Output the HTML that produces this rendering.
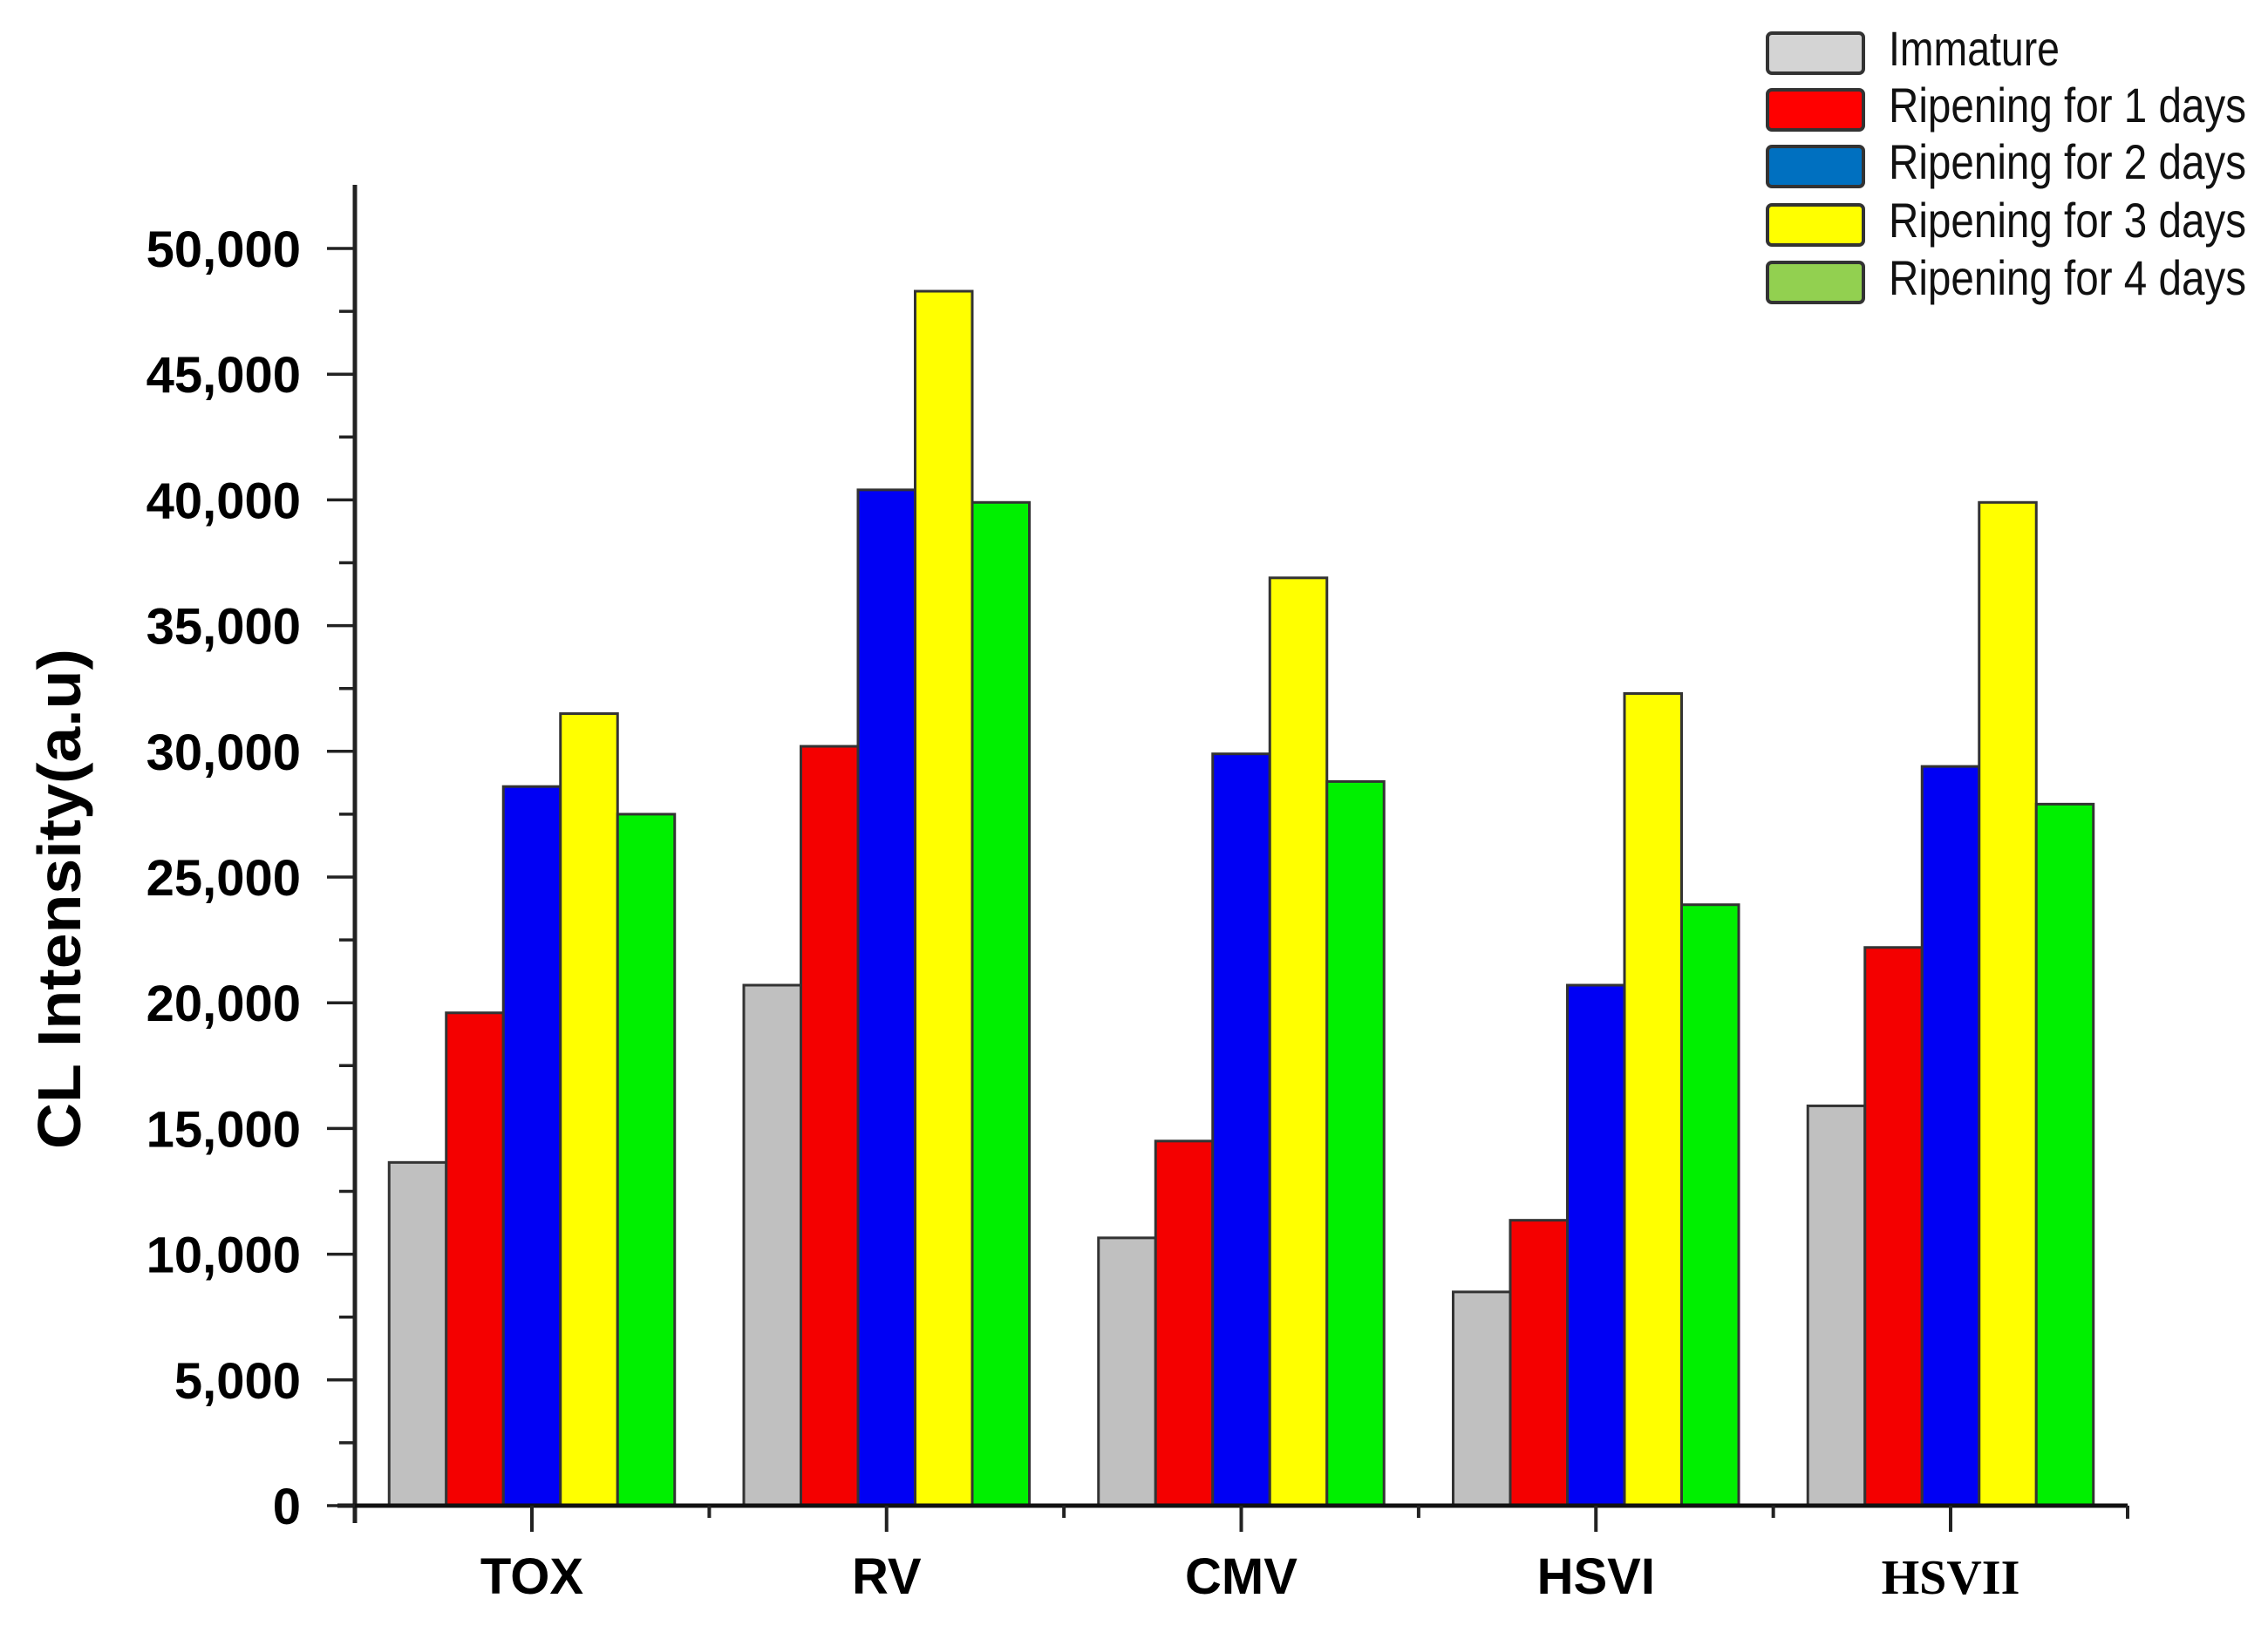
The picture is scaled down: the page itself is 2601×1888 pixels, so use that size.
<!DOCTYPE html>
<html><head><meta charset="utf-8"><style>
html,body{margin:0;padding:0;background:#fff;}
svg{display:block;}
</style></head><body>
<svg id="chart" width="2601" height="1888" viewBox="0 0 2601 1888" xmlns="http://www.w3.org/2000/svg">
<rect width="2601" height="1888" fill="#fff"/>
<g id="bars"></g>
<g id="axes"></g>
<text transform="translate(92,1031) rotate(-90)" text-anchor="middle" font-family="Liberation Sans, sans-serif" font-weight="bold" font-size="70" textLength="574" lengthAdjust="spacingAndGlyphs" fill="#000">CL Intensity(a.u)</text>
<g id="legend"></g>
</svg>
<script>
const categories = ["TOX","RV","CMV","HSVI","HSVII"];
const seriesNames = ["Immature","Ripening for 1 days","Ripening for 2 days","Ripening for 3 days","Ripening for 4 days"];
const immature = [13650, 20700, 10650, 8500, 15900];
const day1 = [19600, 30200, 14500, 11350, 22200];
const day2 = [28600, 40400, 29900, 20700, 29400];
const day3 = [31500, 48300, 36900, 32300, 39900];
const day4 = [27500, 39900, 28800, 23900, 27900];
const yTicks = [0,5000,10000,15000,20000,25000,30000,35000,40000,45000,50000];
const yTickLabels = ["0","5,000","10,000","15,000","20,000","25,000","30,000","35,000","40,000","45,000","50,000"];

const series = [immature, day1, day2, day3, day4];
const barColors = ["#c0c0c0","#f40000","#0000f4","#ffff00","#00f000"];
const legendColors = ["#d4d4d4","#ff0000","#0070c0","#ffff00","#92d050"];
const NS = "http://www.w3.org/2000/svg";
const X0 = 407, X1 = 2440, Y0 = 1727, YTOP = 212;
const yScale = v => Y0 - v * (1727 - 285) / 50000;
const catCenter = i => 610 + i * 406.75;
const barW = 65.5;
function mk(tag, attrs, parent){ const e=document.createElementNS(NS,tag); for(const k in attrs) e.setAttribute(k,attrs[k]); parent.appendChild(e); return e; }

const gb = document.getElementById('bars');
series.forEach((vals, s) => {
  vals.forEach((v, i) => {
    const x = catCenter(i) - 2.5*barW + s*barW;
    const r = mk('rect', {x:x, y:yScale(v), width:barW, height:Y0-yScale(v), fill:barColors[s], stroke:'#333', 'stroke-width':3}, gb);
    
    
  });
});

const ga = document.getElementById('axes');
// y axis line
let l = mk('line', {x1:X0, y1:YTOP, x2:X0, y2:Y0+20, stroke:'#222', 'stroke-width':5}, ga);
 
l = mk('line', {x1:X0-20, y1:Y0, x2:X1, y2:Y0, stroke:'#111', 'stroke-width':5}, ga);
 
mk('line', {x1:X1, y1:Y0, x2:X1, y2:Y0+15, stroke:'#222', 'stroke-width':4}, ga);
yTicks.forEach((v, i) => {
  const y = yScale(v);
  mk('line', {x1:X0-32, y1:y, x2:X0, y2:y, stroke:'#222', 'stroke-width':3.5}, ga);
  if (i < yTicks.length-1) { const ym = yScale(v+2500); mk('line', {x1:X0-18, y1:ym, x2:X0, y2:ym, stroke:'#222', 'stroke-width':3.5}, ga); }
  const t = mk('text', {x:345, y:y+21, 'text-anchor':'end', 'font-family':'Liberation Sans, sans-serif', 'font-weight':'bold', 'font-size':58, fill:'#000'}, ga);
  t.textContent = yTickLabels[i];
   
});
categories.forEach((c, i) => {
  const x = catCenter(i);
  mk('line', {x1:x, y1:Y0, x2:x, y2:Y0+30, stroke:'#222', 'stroke-width':4}, ga);
  if (i < categories.length-1) { const xm = x + 203.4; mk('line', {x1:xm, y1:Y0, x2:xm, y2:Y0+14, stroke:'#222', 'stroke-width':4}, ga); }
  const serif = c === "HSVII";
  const t = mk('text', {x:x, y:1828, 'text-anchor':'middle', 'font-family': serif ? 'Liberation Serif, serif' : 'Liberation Sans, sans-serif', 'font-weight':'bold', 'font-size': serif ? 56 : 58, fill:'#000'}, ga);
  t.textContent = c;
   
});

const gl = document.getElementById('legend');
const baselines = [75,140,205,272,338];
seriesNames.forEach((n, s) => {
  const b = baselines[s];
  const r = mk('rect', {x:2027, y:b-37, width:110, height:46, rx:5, fill:legendColors[s], stroke:'#333', 'stroke-width':4}, gl);
   
  const t = mk('text', {x:2166, y:b, 'font-family':'Liberation Sans, sans-serif', 'font-size':56, fill:'#111', textLength: s===0 ? 196 : 410, lengthAdjust:'spacingAndGlyphs'}, gl);
  t.textContent = n;
   
});
</script>
</body></html>
